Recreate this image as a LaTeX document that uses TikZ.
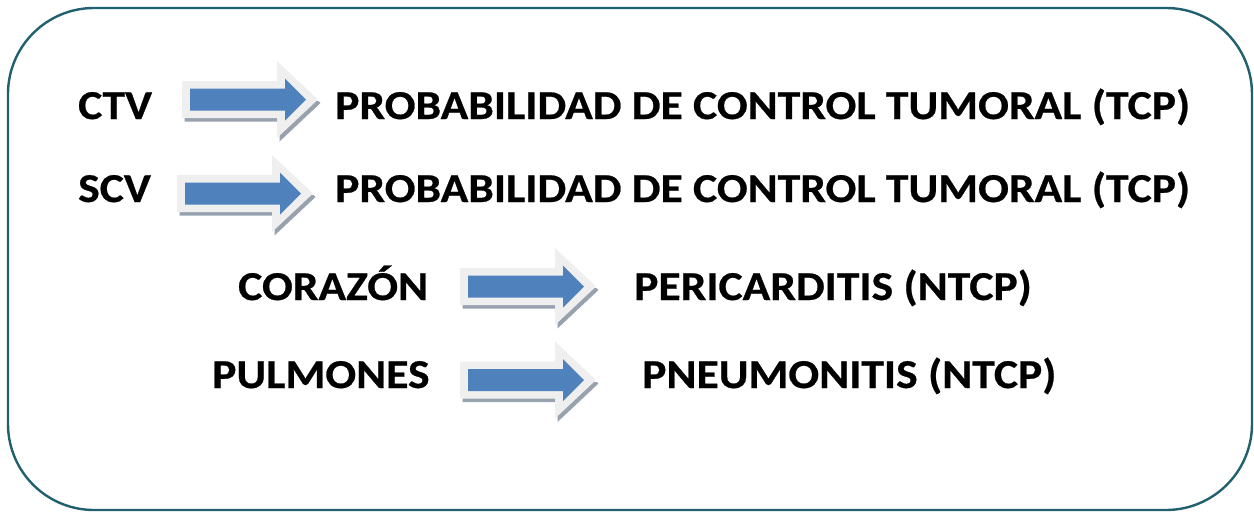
\documentclass[tikz,border=0pt]{standalone}
\usepackage{fontspec}
\setmainfont[FakeStretch=1.112,FakeBold=0.6]{Carlito}
\definecolor{frame}{HTML}{21606F}
\definecolor{arrowblue}{HTML}{4F81BD}
\definecolor{arrowlight}{HTML}{EFEFEF}
\definecolor{arrowshadow}{HTML}{97A2AE}
\tikzset{
  lbl/.style={anchor=base west, inner sep=0pt, font=\bfseries\fontsize{41}{44}\selectfont},
  framebox/.style={draw=frame, line width=2.4pt, rounded corners=86pt},
}
% #1 = name, #2 = left x, #3 = centre y
\newcommand{\bigarrow}[3]{%
  \begin{scope}[shift={(#2,#3)}]
    \begin{scope}
      \clip (-5,2) rectangle (150,60);
      \fill[arrowshadow] (2.5,-18.5+3.5) -- (97.5,-18.5+3.5) -- (97.5,-38.5+3.5) -- (138.5,0+3.5) -- (97.5,38.5+3.5) -- (97.5,18.5+3.5) -- (2.5,18.5+3.5) -- cycle;
    \end{scope}
    \fill[arrowlight] (0,-18.5) -- (95,-18.5) -- (95,-38.5) -- (136,0) -- (95,38.5) -- (95,18.5) -- (0,18.5) -- cycle;
    \fill[arrowblue] (8,-11) -- (103,-11) -- (103,-21) -- (124,0) -- (103,21) -- (103,11) -- (8,11) -- cycle;
    \coordinate (#1w) at (0,0);
    \coordinate (#1e) at (136,0);
  \end{scope}}
\begin{document}
\begin{tikzpicture}[x=1pt,y=-1pt]
  \useasboundingbox (0,0) rectangle (1254,512);
  \draw[framebox] (8,8) rectangle (1252,510);
  \bigarrow{a1}{182}{99.5}
  \bigarrow{a2}{177}{193.5}
  \bigarrow{a3}{460}{286.5}
  \bigarrow{a4}{460}{380}
  \node[lbl] (ctv) at (78,119) {CTV};
  \node[lbl] (tcp1) at (335,119) {PROBABILIDAD DE CONTROL TUMORAL (TCP)};
  \node[lbl] (scv) at (78,202) {SCV};
  \node[lbl] (tcp2) at (335,202) {PROBABILIDAD DE CONTROL TUMORAL (TCP)};
  \node[lbl] (cor) at (238,300) {CORAZÓN};
  \node[lbl] (peri) at (634,300) {PERICARDITIS (NTCP)};
  \node[lbl] (pulm) at (212,388) {PULMONES};
  \node[lbl] (pneu) at (642,388) {PNEUMONITIS (NTCP)};
\end{tikzpicture}
\end{document}
